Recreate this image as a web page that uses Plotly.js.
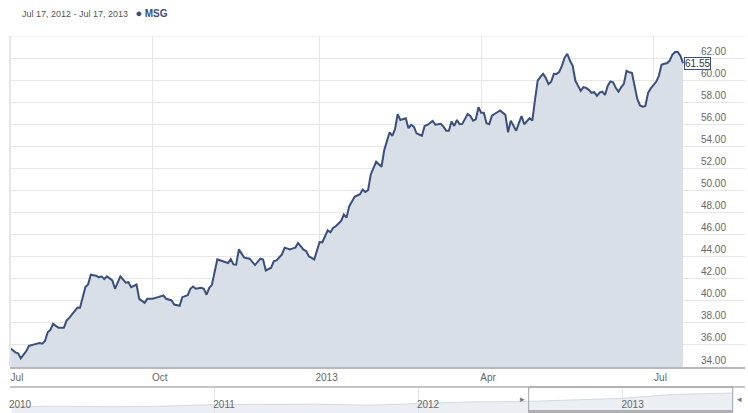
<!DOCTYPE html>
<html>
<head>
<meta charset="utf-8">
<script src="https://cdn.plot.ly/plotly-3.0.1.min.js"></script>
<style>
  html, body { margin: 0; padding: 0; background: #fff; }
  #chart { width: 748px; height: 413px; }
</style>
</head>
<body>
<div id="chart"></div>
<script>
// trading-day index since Jul 17, 2012 and the close
let day = [0, 2, 3, 4, 6, 7, 9, 11, 12, 13, 14, 15, 16, 18, 20, 21, 22, 24, 25, 26,
    28, 29, 30, 32, 33, 34, 35, 36, 38, 39, 41, 43, 44, 45, 47, 48, 50, 51, 53,
    55, 57, 58, 60, 61, 63, 64, 66, 67, 68, 69, 71, 72, 73, 74, 75, 77, 79, 81, 82,
    83, 84, 85, 87, 89, 91, 93, 94, 95, 97, 98, 99, 101, 102, 104, 105, 106, 107,
    109, 110, 111, 113, 115,
    116, 118, 119, 120, 121, 123, 124, 125, 126, 128, 130, 131, 132, 133, 134, 136,
    138, 139, 141, 142, 143, 144, 145, 147, 148, 149, 150, 151, 153, 154, 155, 157,
    158, 160, 161, 162, 163, 164, 165, 166, 167, 168, 170, 171, 172, 173, 174, 175,
    176, 177, 178, 179, 181, 182, 184, 185, 186, 188, 190, 191, 193, 194, 195, 196,
    197, 198, 199, 200, 201, 202, 203, 204, 205, 206, 207, 208, 209, 210, 211, 212,
    213, 214, 215, 216, 217, 218, 219, 220, 221, 222, 223, 224, 225, 226, 227, 228,
    229, 230, 231, 232, 233, 234, 235, 236, 237, 238, 239,
    240, 241, 242, 243, 244, 245, 246, 247, 248, 249, 250];

let close = [35.73, 35.33, 35.24, 34.78, 35.42, 35.91, 36.05, 36.18, 36.12, 36.36, 37.15, 37.36, 37.91, 37.55, 37.55, 38.21, 38.45, 39.12, 39.36, 39.36,
    41.24, 41.48, 42.36, 42.27, 42.12, 42.21, 41.96, 42.21, 41.85, 41.09, 42.21, 41.64, 41.69, 41.24, 41.48, 40.18, 39.82, 40.18, 40.18,
    40.33, 40.48, 40.18, 40.03, 39.66, 39.55, 40.33, 40.51, 41.09, 41.30, 41.09, 41.18, 41.09, 40.55, 41.18, 41.45, 43.75, 43.57, 43.42, 43.78,
    43.30, 43.27, 44.66, 43.91, 43.82, 43.24, 43.82, 43.75, 42.75, 43.00, 43.60, 43.66, 44.21, 44.82, 44.66, 44.75, 44.82, 45.24,
    44.64, 44.51, 44.03, 43.75, 45.33,
    45.30, 46.39, 46.21, 46.60, 46.75, 47.24, 47.82, 47.55, 48.57, 49.42, 49.66, 50.09, 49.87, 50.03, 51.45, 52.60,
    52.15, 53.66, 55.27, 54.94, 55.55, 56.91, 56.39, 56.55, 55.64, 55.94, 55.78, 55.18, 54.96, 55.85, 55.94, 56.30,
    55.96, 56.05, 55.78, 55.42, 55.42, 56.24, 55.85, 56.39, 56.00, 56.03, 56.94, 56.75, 56.33, 56.45, 57.55, 57.05,
    57.05, 56.09, 56.00, 56.78, 57.09, 57.24, 56.85, 55.27, 56.33, 55.42, 56.75, 56.00, 56.55, 56.33, 58.21, 59.95,
    60.30, 60.57, 60.21, 59.64, 59.85, 60.57, 60.55, 60.75, 61.30, 62.03, 62.39, 61.75, 61.30, 59.94, 59.48, 59.03,
    59.36, 59.30, 59.12, 58.85, 58.91, 58.57, 58.87, 58.96, 58.66, 59.48, 59.89, 59.80, 59.30, 58.96, 59.35, 59.66,
    60.85, 60.71, 60.66, 59.30, 58.30, 57.71, 57.60, 57.66, 58.85, 59.25, 59.57,
    59.85, 60.39, 61.39, 61.48, 61.53, 61.75, 62.30, 62.55, 62.55, 62.21, 61.55];

// month ticks on the trading-day axis
let monthTickDays = [0, 53, 115, 175, 239];
let monthTickText = ['Jul', 'Oct', '2013', 'Apr', 'Jul'];

let priceTicks = [34, 36, 38, 40, 42, 44, 46, 48, 50, 52, 54, 56, 58, 60, 62, 64];
let priceTickText = ['34.00', '36.00', '38.00', '40.00', '42.00', '44.00', '46.00', '48.00',
    '50.00', '52.00', '54.00', '56.00', '58.00', '60.00', '62.00', ''];

// navigator (long history) series
let navDates = ['2010-01-04', '2010-04-01', '2010-07-01', '2010-10-01', '2011-01-03', '2011-04-01',
    '2011-07-01', '2011-10-03', '2012-01-03', '2012-04-02', '2012-07-17', '2012-10-01',
    '2013-01-02', '2013-04-01', '2013-07-17'];
let navClose = [20, 21, 19.5, 21, 26, 27, 27.5, 24, 30, 34, 35.7, 40.2, 45.3, 57.1, 61.55];

let lineColor = '#3a4f7e';
let gridColor = '#e6e6e6';
let labelFont = {family: 'Liberation Sans, Arial, sans-serif', size: 10, color: '#666'};

let priceTrace = {
    x: day,
    y: close,
    type: 'scatter',
    mode: 'lines',
    fill: 'tozeroy',
    fillcolor: '#d9dfe7',
    line: {color: lineColor, width: 2},
    xaxis: 'x',
    yaxis: 'y',
    hoverinfo: 'skip'
};

let navTrace = {
    x: navDates,
    y: navClose,
    type: 'scatter',
    mode: 'lines',
    fill: 'tozeroy',
    fillcolor: 'rgba(215,222,232,0.5)',
    line: {color: 'rgba(195,205,220,0.7)', width: 1},
    xaxis: 'x2',
    yaxis: 'y2',
    hoverinfo: 'skip'
};

let last = day.length - 1;

let layout = {
    width: 748,
    height: 413,
    margin: {l: 10, r: 3, t: 36, b: 0},
    paper_bgcolor: '#fff',
    plot_bgcolor: '#fff',
    showlegend: false,
    font: labelFont,
    xaxis: {
        domain: [0, 1],
        range: [0, 273],
        tickvals: monthTickDays,
        ticktext: monthTickText,
        ticks: '',
        ticklabelshift: 7,
        showgrid: true,
        gridcolor: gridColor,
        gridwidth: 1,
        zeroline: false,
        showline: true,
        linecolor: '#b8b8b8',
        linewidth: 2,
        tickfont: labelFont,
        anchor: 'y'
    },
    yaxis: {
        domain: [0.122, 1],
        range: [34, 64],
        side: 'right',
        tickvals: priceTicks,
        ticktext: priceTickText,
        ticks: '',
        ticklabelposition: 'inside top',
        ticklabelstandoff: 16,
        ticklabeloverflow: 'allow',
        showgrid: true,
        gridcolor: gridColor,
        zeroline: false,
        tickfont: labelFont,
        anchor: 'x'
    },
    xaxis2: {
        domain: [0, 1],
        type: 'date',
        range: ['2010-01-01', '2013-08-08'],
        dtick: 'M12',
        tickformat: '%Y',
        ticks: '',
        ticklabelposition: 'inside',
        ticklabeloverflow: 'allow',
        ticklabelshift: 10,
        showgrid: true,
        gridcolor: gridColor,
        zeroline: false,
        showline: false,
        tickfont: labelFont,
        anchor: 'y2'
    },
    yaxis2: {
        domain: [0, 0.069],
        range: [0, 80],
        showticklabels: false,
        showgrid: false,
        zeroline: false,
        anchor: 'x2'
    },
    shapes: [
        // top frame of the price pane
        {type: 'line', xref: 'paper', yref: 'y', x0: 0, x1: 1, y0: 64, y1: 64,
            line: {color: gridColor, width: 1}},
        // left frame
        {type: 'line', xref: 'paper', yref: 'paper', x0: 0, x1: 0, y0: 0.122, y1: 1,
            line: {color: gridColor, width: 2}},
        // navigator top border
        {type: 'line', xref: 'paper', yref: 'y2 domain', x0: 0, x1: 1, y0: 1, y1: 1,
            line: {color: '#8a8a8a', width: 1}},
        // navigator selected window
        {type: 'rect', xref: 'x2', yref: 'y2 domain', x0: '2012-07-17', x1: '2013-07-17', y0: 0, y1: 1,
            line: {color: '#a0a0a0', width: 1}, fillcolor: 'rgba(0,0,0,0)'},
        {type: 'rect', xref: 'x2', yref: 'y2 domain', x0: '2012-07-17', x1: '2013-07-17', y0: 0, y1: 0.12,
            line: {width: 0}, fillcolor: '#b0b0b0'}
    ],
    annotations: [
        {xref: 'paper', yref: 'paper', x: 0.013, y: 1.06, xanchor: 'left', yanchor: 'middle',
            showarrow: false, align: 'left',
            text: 'Jul 17, 2012 - Jul 17, 2013   <span style="color:' + lineColor + ';font-size:11px">●</span> ' +
                '<b><span style="color:' + lineColor + ';font-size:10px">MSG</span></b>',
            font: {family: 'Liberation Sans, Arial, sans-serif', size: 9, color: '#555'}},
        {xref: 'x', yref: 'y', x: day[last], y: close[last], xanchor: 'left', yanchor: 'middle',
            xshift: 1, showarrow: false, text: close[last].toFixed(2),
            font: {family: 'Liberation Sans, Arial, sans-serif', size: 10, color: '#333'},
            bgcolor: 'rgba(255,255,255,0.85)', bordercolor: lineColor, borderwidth: 1, borderpad: 0},
        {xref: 'x2', yref: 'y2 domain', x: '2012-07-17', y: 0.55, xanchor: 'right', yanchor: 'middle',
            xshift: -2, showarrow: false, text: '▸', font: {size: 9, color: '#777'}},
        {xref: 'x2', yref: 'y2 domain', x: '2013-07-17', y: 0.55, xanchor: 'left', yanchor: 'middle',
            xshift: 2, showarrow: false, text: '◂', font: {size: 9, color: '#777'}}
    ]
};

Plotly.newPlot('chart', [priceTrace, navTrace], layout, {displayModeBar: false, staticPlot: true});
</script>
</body>
</html>
